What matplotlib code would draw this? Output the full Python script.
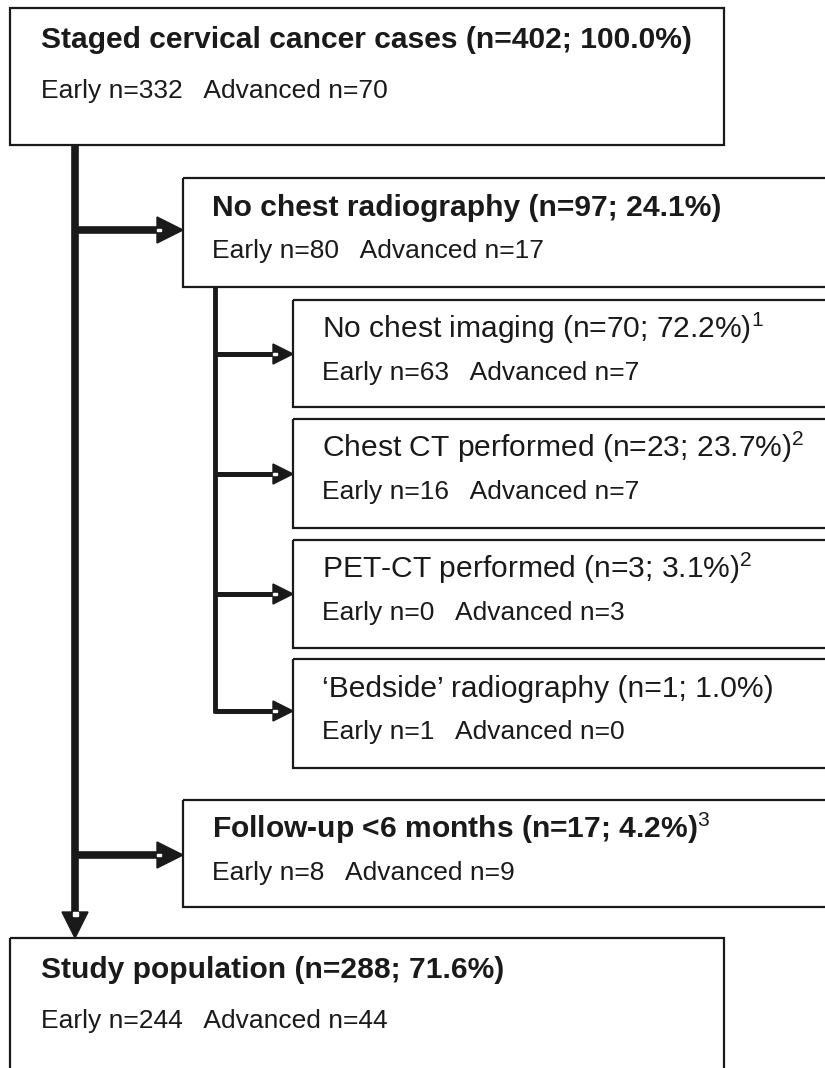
import matplotlib
matplotlib.use("Agg")
import matplotlib.pyplot as plt
from matplotlib.patches import Rectangle, Polygon

# flowchart content
labels = ["Staged cervical cancer cases", "No chest radiography", "No chest imaging",
          "Chest CT performed", "PET-CT performed", "\u2018Bedside\u2019 radiography",
          "Follow-up <6 months", "Study population"]
n_total = [402, 97, 70, 23, 3, 1, 17, 288]
pct = [100.0, 24.1, 72.2, 23.7, 3.1, 1.0, 4.2, 71.6]
early = [332, 80, 63, 16, 0, 1, 8, 244]
advanced = [70, 17, 7, 7, 3, 0, 9, 44]
notes = ["", "", "1", "2", "2", "", "3", ""]

W, H = 825, 1068
# box geometry in pixels (x0, y0, x1, y1), bold title?
boxes = [(10, 8, 724, 145, True),
         (183, 178, 840, 287, True),
         (293, 300, 840, 407, False),
         (293, 419, 840, 528, False),
         (293, 540, 840, 648, False),
         (293, 659, 840, 768, False),
         (183, 800, 840, 907, True),
         (10, 938, 724, 1090, True)]

SANS = ["Liberation Sans", "DejaVu Sans"]
plt.rcParams["mathtext.fontset"] = "custom"
plt.rcParams["mathtext.rm"] = "Liberation Sans"
plt.rcParams["mathtext.bf"] = "Liberation Sans:bold"
INK = "#1a1a1a"

fig = plt.figure(figsize=(W / 100, H / 100), dpi=100)
ax = fig.add_axes([0, 0, 1, 1])
ax.set_xlim(0, W)
ax.set_ylim(H, 0)
ax.axis("off")

for i, (x0, y0, x1, y1, bold) in enumerate(boxes):
    ax.add_patch(Rectangle((x0, y0), x1 - x0, y1 - y0, fill=False,
                           ec=INK, lw=1.6, zorder=2))
    title = f"{labels[i]} (n={n_total[i]}; {pct[i]:.1f}%)"
    if notes[i]:
        title += r"$^{" + notes[i] + "}$"
    sub = f"Early n={early[i]}   Advanced n={advanced[i]}"
    top_box = x0 < 50
    tx = x0 + (31 if top_box else 29)
    ty = y0 + (40 if top_box else 38)
    sy = y0 + (90 if top_box else 80)
    ax.text(tx, ty, title, family=SANS, weight="bold" if bold else "normal",
            fontsize=21.6, va="baseline", ha="left", color=INK)
    ax.text(tx, sy, sub, family=SANS, fontsize=19,
            va="baseline", ha="left", color=INK)


def arrow(x0, x1, y, lw, hl, hw, vertical=False):
    # thick shaft plus filled triangular head with a small white notch
    if vertical:
        ax.plot([y, y], [x0, x1 - hl + 2], color=INK, lw=lw,
                solid_capstyle="butt", zorder=3)
        ax.add_patch(Polygon([(y - hw / 2, x1 - hl), (y + hw / 2, x1 - hl), (y, x1)],
                             closed=True, color=INK, zorder=3))
        ax.add_patch(Rectangle((y - 2.5, x1 - hl), 5, 4, color="white", zorder=4))
    else:
        ax.plot([x0, x1 - hl + 2], [y, y], color=INK, lw=lw,
                solid_capstyle="butt", zorder=3)
        ax.add_patch(Polygon([(x1 - hl, y - hw / 2), (x1 - hl, y + hw / 2), (x1, y)],
                             closed=True, color=INK, zorder=3))
        ax.add_patch(Rectangle((x1 - hl, y - lw * 0.25), 4, lw * 0.5,
                               color="white", zorder=4))


# main trunk
MX = 75
arrow(145, 938, MX, 5.5, 26, 26, vertical=True)
arrow(MX, 183, 230, 5.5, 26, 26)
arrow(MX, 183, 855, 5.5, 26, 26)

# sub trunk
SX = 215
ax.plot([SX, SX], [287, 713], color=INK, lw=3.5, solid_capstyle="butt", zorder=3)
for yy in [354, 474, 594, 711]:
    arrow(SX - 1, 293, yy, 3.6, 20, 20)

fig.savefig("out.png", dpi=100)
